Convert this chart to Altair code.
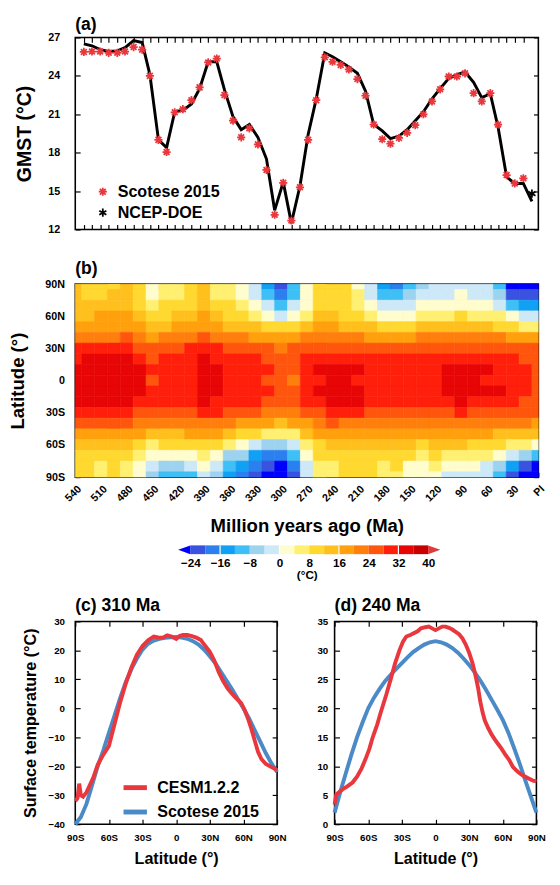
import altair as alt
import pandas as pd

FONT = "Liberation Sans"
RED = "#e8383d"
BLUE = "#4a8ac6"

# ---------------- (a) global mean surface temperature ----------------
ages = [530, 520.5, 511, 501, 491, 482, 472, 462, 453, 443, 433.5, 424, 414.5, 404.5, 395, 385, 375, 366,
        356, 346.5, 337, 327, 317, 307.5, 297.5, 288, 278, 268.5, 259, 249, 240, 230.5, 221, 211, 201.5,
        192, 182, 172.5, 162.5, 153, 143.5, 134, 124, 114.5, 104.5, 95, 85.5, 75.5, 66, 56, 47, 37, 27.5, 17.5]
scotese_gmst = [25.87, 25.9, 25.9, 25.8, 25.8, 25.9, 26.25, 26.05, 24.0, 19.0, 18.05, 21.15, 21.4, 22.1,
                23.1, 25.05, 25.35, 22.5, 20.5, 19.2, 19.9, 18.65, 16.65, 13.15, 15.65, 12.7, 15.3, 19.0,
                22.1, 25.45, 25.1, 24.85, 24.5, 23.75, 22.45, 20.2, 19.05, 18.7, 19.15, 19.55, 20.15, 21.0,
                22.0, 22.95, 23.95, 23.95, 24.2, 22.65, 22.0, 22.65, 20.2, 16.25, 15.6, 16.0]
cesm_ages = ages + [7.5]
cesm_gmst = [26.5, 26.35, 26.05, 25.9, 25.95, 26.2, 26.75, 26.6, 24.1, 19.0, 18.4, 21.2, 21.3, 21.8, 23.0,
             25.1, 25.1, 22.9, 20.8, 19.8, 20.2, 19.2, 17.5, 13.5, 15.7, 12.5, 15.4, 19.4, 22.2, 25.8, 25.5,
             25.1, 24.7, 24.2, 22.8, 20.2, 19.7, 19.1, 19.3, 19.8, 20.5, 21.2, 22.2, 23.0, 23.8, 24.1, 24.3,
             23.5, 22.3, 22.6, 20.0, 16.1, 15.6, 15.6, 14.2]
ncep_age = [7.5]
ncep_gmst = [14.8]
gmst_ticks = [12, 15, 18, 21, 24, 27]
src_a = ["Scotese 2015", "NCEP-DOE"]

# ---------------- (b) zonal-mean surface temperature ----------------
grid_ages = [540, 525, 510, 495, 480, 465, 450, 435, 420, 405, 390, 375, 360, 345, 330, 315, 300, 285, 270,
             255, 240, 225, 210, 195, 180, 165, 150, 135, 120, 105, 90, 75, 60, 45, 30, 15, 0]
grid_lats = [90, 80, 70, 60, 50, 40, 30, 20, 10, 0, -10, -20, -30, -40, -50, -60, -70, -80, -90]
p540 = [12, 12, 13, 15.5, 19, 23.5, 28, 31.5, 33.5, 34, 33.5, 33, 29, 24.3, 18, 12.3, 10, 9.5, 9.5]
p525 = [10.5, 11, 12.5, 15.5, 19, 23.5, 28, 32, 33.5, 34, 33.5, 33, 29, 24.3, 18, 12.5, 10, 9, 9]
p510 = [10.5, 11.5, 13, 16, 19.3, 23.5, 28, 32, 33.5, 34, 33.5, 33, 29, 24, 18.5, 13, 9.5, 7, 6.5]
p495 = [11, 12, 13.5, 16, 19.5, 23.5, 28, 32, 33.5, 34, 33.5, 33, 29, 24, 18.5, 13, 9.5, 8, 8]
p480 = [12, 12.5, 14, 16.5, 19.5, 24, 28, 32, 33.5, 34, 33.5, 33, 29, 24, 18.5, 12.5, 9, 7.5, 7]
p465 = [8, 8.5, 10.5, 13.5, 17, 22, 26.5, 30, 32.3, 32.5, 32.3, 31, 27.5, 22.5, 16, 10, 5, 2, 1]
p450 = [2.5, 3.5, 5.5, 8.5, 12.5, 18.5, 24, 27.5, 29.5, 27.5, 29.5, 28.5, 25.5, 21, 14.5, 7, 1, -3, -6]
p435 = [5, 6, 8, 11, 15, 20.5, 25.5, 28.5, 30, 29.5, 30, 29.5, 26.5, 22, 15.5, 8, 0, -5, -9]
p420 = [6.5, 7, 9.5, 12.5, 16, 21.5, 27, 29.5, 30.5, 30.5, 30.5, 30, 27, 22, 15.5, 8, 0, -6, -10]
p405 = [8, 8.5, 11, 14, 17.5, 23, 28, 30.5, 31, 31, 31, 30.5, 27.5, 22.5, 16, 9, 2, -4, -9]
p390 = [12.5, 13, 14, 16, 19.5, 25, 29.5, 32.3, 32.8, 32.5, 32.8, 32.3, 28.5, 23.5, 17, 10.5, 5, 1, -2]
p375 = [6, 7, 9.5, 13, 17, 23, 28.5, 31.5, 32.3, 32.5, 32.5, 31.8, 28, 22.5, 16, 8, 1, -4, -6]
p360 = [4, 5, 8, 11.5, 15.5, 21.5, 27.5, 30.5, 31, 30.5, 31, 30.5, 26.5, 21, 14, 5, -5, -12, -16]
p345 = [2, 3.5, 6, 10, 14, 20.5, 26.5, 29.5, 30.5, 30, 30.5, 29.5, 25.5, 19.5, 11, 1, -8, -16, -19]
p330 = [-2, -0.5, 3, 7.5, 12, 19.5, 25.5, 28.5, 29, 28.5, 29, 28, 24.5, 17.5, 8, -3, -13, -20, -22]
p315 = [-14, -10, -3, 3, 9.5, 18, 24, 27.5, 28, 27, 28, 27.5, 23.5, 16, 6, -6, -17, -24, -27]
p300 = [-21, -17, -9, -1, 8, 17, 23.5, 26.5, 27.3, 25.5, 27, 26.5, 23, 15.5, 5, -8, -20, -27, -31]
p285 = [-12, -9, -4, 1.5, 9.5, 18, 24, 26.5, 26.8, 23.5, 26.5, 26.5, 23, 16, 7, -3, -12, -20, -24]
p270 = [2, 2.5, 3.5, 7, 13, 20, 25.5, 28.5, 28.5, 28.3, 29, 28.5, 25, 19.5, 12.5, 5, 1, -1.5, -3]
p255 = [10, 10, 11, 13, 16, 21, 26.5, 30.5, 32, 31.8, 32, 31.5, 27.5, 22.5, 17, 11.5, 8.5, 7, 6]
p240 = [10.5, 10.5, 11, 12.5, 16, 21, 26.5, 31, 33.5, 33.5, 33.5, 33, 29, 24, 18.5, 12.5, 9, 6.5, 4.5]
p225 = [8, 8.5, 9.5, 11, 15, 20.5, 26.5, 30.5, 33.5, 33.5, 33.5, 33, 28.5, 23, 17.5, 12.5, 9.5, 9, 8.5]
p210 = [3, 4, 6.5, 9, 14, 20, 26.5, 30.5, 33, 31.8, 33, 32.5, 28, 23, 17, 12.5, 10, 9.5, 9]
p195 = [-3, -1.5, 2, 6, 12, 19.5, 26, 29.5, 30.5, 30.5, 30.5, 30, 27.5, 22.5, 16.5, 12, 9.5, 8.5, 8]
p180 = [-15, -11, -4, 2.5, 10.5, 19, 26, 29.5, 30.5, 30.5, 30.5, 30, 27, 22, 16.5, 12.5, 9, 7, 6.5]
p165 = [-17, -12, -4, 2, 10, 19, 26, 29.5, 30.5, 30.5, 30.5, 30, 27, 22, 17, 12.5, 9.5, 8, 7]
p150 = [-11, -8, -2, 3, 10.5, 19.5, 26.5, 29.5, 30.5, 30.5, 30.5, 30, 27, 22, 16.5, 12, 8, 3, 1.5]
p135 = [-5, -4, 0.5, 5, 12, 20.5, 27, 30, 30.5, 30.5, 30.5, 30, 27, 22, 16.5, 11.5, 5.5, 2, 1]
p120 = [-4, -3, 1, 6.5, 13, 21, 27, 30.5, 31, 31, 31, 30.5, 27.5, 22.5, 17, 12, 8, 4, 1]
p105 = [-2, -1, 2.5, 7.5, 14.5, 21.5, 27.5, 31, 32.5, 32.5, 32.5, 31.5, 27.5, 22.5, 17, 12, 7.5, 1.5, -2]
p90 = [-1, 0, 3, 8, 14.5, 21.5, 27.5, 31.5, 33, 33, 33, 32, 28, 23, 17, 12, 7, 0, -3]
p75 = [-2, -1, 2.5, 7.5, 14, 21, 27, 31.5, 32.5, 32, 32.5, 31.5, 27.5, 22.5, 16.5, 11.5, 6, 0, -3]
p60 = [-3, -2, 2, 7, 13.5, 20.5, 27, 31, 32.3, 31.8, 32.3, 31, 27, 22, 16, 10.5, 5, -1, -4]
p45 = [-11, -8, -2, 4, 11.5, 20, 26.5, 30.5, 31, 31.5, 32, 30.5, 26.5, 21.5, 15, 9, 2, -5, -10]
p30 = [-26, -22, -12, 1, 9.5, 19, 25.5, 28, 29, 28.5, 29, 28, 25, 20.5, 14, 7, -4, -16, -22]
p15 = [-28, -24, -14, -1, 7, 18, 24.5, 27, 28, 28.8, 28, 27, 24.5, 20, 13, 5, -7, -22, -27]
p0 = [-27, -22, -14, -3, 5, 17.5, 24, 26.5, 27, 27, 27, 26.5, 24, 19.5, 12, 2, -10, -26, -30]
profiles = [p540, p525, p510, p495, p480, p465, p450, p435, p420, p405, p390, p375, p360, p345, p330,
            p315, p300, p285, p270, p255, p240, p225, p210, p195, p180, p165, p150, p135, p120, p105,
            p90, p75, p60, p45, p30, p15, p0]
age_ticks = [540, 510, 480, 450, 420, 390, 360, 330, 300, 270, 240, 210, 180, 150, 120, 90, 60, 30, 0]
lat_ticks = [90, 60, 30, 0, -30, -60, -90]

# ---------------- colour levels ----------------
levels = [-24, -20, -16, -12, -8, -4, 0, 4, 8, 12, 16, 20, 24, 28, 32, 36, 40]
level_colors = ["#0000ff", "#3a52e0", "#2b7fef", "#10a1f5", "#3ebff5", "#9ed3ef", "#cde9f8",
                "#fffccd", "#fff071", "#ffd830", "#ffbf1c", "#ffa00c", "#ff7e0c", "#ff550c",
                "#ff1f0a", "#e80505", "#c80000", "#de3b3b"]
cbar_labels = [-24, -16, -8, 0, 8, 16, 24, 32, 40]
cbar_white = [-16, 0, 16, 32]

# ---------------- (c) 310 Ma and (d) 240 Ma profiles ----------------
lat5 = [-90, -85, -80, -75, -70, -65, -60, -55, -50, -45, -40, -35, -30, -25, -20, -15, -10, -5, 0,
        5, 10, 15, 20, 25, 30, 35, 40, 45, 50, 55, 60, 65, 70, 75, 80, 85, 90]
c_blue = [-40, -37.5, -33, -26.5, -20, -14.5, -8.5, -2.5, 3.5, 9, 13.5, 17.2, 20.3, 22.3, 23.4, 24, 24.3,
          24.5, 24.6, 24.4, 24, 23.2, 22, 20.2, 18, 15.5, 12.5, 9.5, 6.5, 3.2, 0, -3.5, -7.5, -11.5,
          -15.5, -19, -22]
c_lat_red = [-90, -88, -86.5, -85, -83, -80, -77, -74, -70, -65, -60, -55, -50, -45, -40, -35, -30, -25,
             -20, -16, -12, -8, -4, 0, 3, 6, 10, 14, 18, 22, 26, 30, 34, 38, 42, 46, 50, 54, 58, 61, 64,
             67, 70, 73, 76, 80, 85, 90]
c_red = [-32, -31, -26, -30, -30.5, -29, -26.5, -24, -19.5, -16, -13, -5.5, 2, 8.5, 14, 18.5, 21.5, 23.5,
         24.8, 24.5, 24.4, 25.2, 24.8, 24, 25, 25.3, 25.3, 24.9, 24.4, 23.6, 21.5, 19.5, 16.5, 12.5, 9.3,
         6.8, 5, 3.3, 1.8, -0.5, -3.5, -7, -11, -15, -17.5, -19.2, -20.3, -21.3]
d_blue = [2, 5.5, 8.8, 12, 15, 17.6, 20, 21.8, 23.3, 24.7, 25.8, 26.8, 27.8, 28.8, 29.7, 30.4, 31, 31.4,
          31.6, 31.4, 31, 30.4, 29.6, 28.6, 27.5, 26.2, 24.8, 23.2, 21.5, 19.8, 18, 15.8, 13.2, 10.5, 7.6,
          4.8, 2]
d_lat_red = [-90, -88.5, -83, -79, -74, -70, -66, -62.5, -59, -56, -52, -49, -44, -40, -36, -32, -29, -26,
             -22, -19, -16, -13, -9, -6, -3, 0, 3, 6, 9, 12, 15, 18, 21, 24, 27, 30, 33, 36, 38, 40, 42,
             44, 47, 50, 53, 56, 59, 62, 66, 69, 72, 75, 78, 81, 84, 87, 90]
d_red = [3.4, 5.1, 6, 6.5, 7.2, 8.2, 9.6, 11.2, 13, 15, 17.2, 19.2, 22.3, 25, 27.8, 30.1, 31.5, 32.4, 32.7,
         33, 33.3, 33.8, 34, 34.1, 33.8, 33.5, 33.8, 34.1, 34.1, 33.9, 33.6, 33.2, 32.8, 32.1, 31, 29.6,
         27.8, 25.4, 23.5, 21.1, 19.3, 17.9, 16.6, 15.5, 14.6, 13.8, 13, 12.1, 11, 9.9, 9.3, 8.8, 8.4,
         8.1, 7.8, 7.5, 7.4]
lat_axis_ticks = [-90, -60, -30, 0, 30, 60, 90]
c_ticks = [-40, -30, -20, -10, 0, 10, 20, 30]
d_ticks = [0, 5, 10, 15, 20, 25, 30, 35]
src_c = ["CESM1.2.2", "Scotese 2015"]

STAR8 = "M-1,0L1,0M0,-1L0,1M-0.71,-0.71L0.71,0.71M-0.71,0.71L0.71,-0.71"
STAR6 = "M0,-1L0,1M-0.87,-0.5L0.87,0.5M-0.87,0.5L0.87,-0.5"
TRI_L = "M1,-0.72L-1,0L1,0.72Z"
TRI_R = "M-1,-0.72L1,0L-1,0.72Z"
LATFMT = "datum.value > 0 ? datum.value + 'N' : (datum.value < 0 ? (-datum.value) + 'S' : '0')"


def ax(orient, values, labels=True, **kw):
    return alt.Axis(orient=orient, values=values, labels=labels, tickSize=5, offset=-5,
                    domain=False, grid=False, labelFlush=False, **kw)


# ---------- panel (a) ----------
df_line = pd.DataFrame({"age": cesm_ages, "gmst": cesm_gmst})
df_pts = pd.DataFrame({"age": ages + ncep_age, "gmst": scotese_gmst + ncep_gmst,
                       "src": [src_a[0]] * len(ages) + [src_a[1]] * len(ncep_age)})
xa = alt.Scale(domain=[0, 540], reverse=True, nice=False, zero=False)
ya = alt.Scale(domain=[12, 27], nice=False, zero=False)
leg_a = alt.Legend(title=None, orient="none", legendX=20, legendY=150, labelFontSize=16.5,
                   labelOffset=7, rowPadding=4.5, symbolSize=70, symbolStrokeWidth=1.8, padding=0)

line_a = alt.Chart(df_line).mark_line(color="black", strokeWidth=3).encode(
    x=alt.X("age:Q", scale=xa, axis=ax("bottom", ages, labels=False, title=None)),
    y=alt.Y("gmst:Q", scale=ya, axis=ax("left", gmst_ticks, labelFontSize=11, labelPadding=16,
                                        title="GMST (°C)", titleFontSize=20, titlePadding=14)),
)
pts_a = alt.Chart(df_pts).mark_point(filled=False, size=70, strokeWidth=1.8, opacity=1).encode(
    x=alt.X("age:Q", scale=xa, axis=ax("top", ages, labels=False, title=None)),
    y=alt.Y("gmst:Q", scale=ya, axis=ax("right", gmst_ticks, labels=False, title=None)),
    color=alt.Color("src:N", scale=alt.Scale(domain=src_a, range=[RED, "black"]), legend=leg_a),
    shape=alt.Shape("src:N", scale=alt.Scale(domain=src_a, range=[STAR8, STAR6]), legend=leg_a),
)
panel_a = alt.layer(line_a, pts_a).resolve_axis(x="independent", y="independent").properties(
    width=475, height=197,
    title=alt.TitleParams("(a)", anchor="start", frame="group", fontSize=18, offset=-2))

# ---------- panel (b) ----------
half_t = (grid_ages[0] - grid_ages[1]) / 2
half_l = (grid_lats[0] - grid_lats[1]) / 2
rows = []
for t, prof in zip(grid_ages, profiles):
    assert len(prof) == len(grid_lats)
    for lat, val in zip(grid_lats, prof):
        rows.append({"t0": min(t + half_t, grid_ages[0]), "t1": max(t - half_t, grid_ages[-1]),
                     "l0": max(lat - half_l, grid_lats[-1]), "l1": min(lat + half_l, grid_lats[0]),
                     "T": val})
df_heat = pd.DataFrame(rows)
xb = alt.Scale(domain=[0, 540], reverse=True, nice=False, zero=False)
yb = alt.Scale(domain=[-90, 90], nice=False, zero=False)
tscale = alt.Scale(type="threshold", domain=levels, range=level_colors)

heat = alt.Chart(df_heat).mark_rect(strokeWidth=0.6).encode(
    x=alt.X("t0:Q", scale=xb, axis=ax("bottom", age_ticks, labelExpr="datum.value == 0 ? 'PI' : datum.label",
                                       labelAngle=-45, labelFontSize=11, labelPadding=6,
                                       title="Million years ago (Ma)", titleFontSize=19, titlePadding=14)),
    x2="t1:Q",
    y=alt.Y("l0:Q", scale=yb, axis=ax("left", lat_ticks, labelExpr=LATFMT, labelFontSize=11, labelPadding=11,
                                       title="Latitude (°)", titleFontSize=19, titlePadding=18)),
    y2="l1:Q",
    color=alt.Color("T:Q", scale=tscale, legend=None),
    stroke=alt.Stroke("T:Q", scale=tscale, legend=None),
)
df_tick_b = pd.DataFrame({"age": ages, "lat": [0] * len(ages)})
ticks_b = alt.Chart(df_tick_b).mark_point(opacity=0).encode(
    x=alt.X("age:Q", scale=xb, axis=ax("top", ages, labels=False, title=None)),
    y=alt.Y("lat:Q", scale=yb, axis=ax("right", lat_ticks, labels=False, title=None)),
)
panel_b = alt.layer(heat, ticks_b).resolve_axis(x="independent", y="independent").properties(
    width=475, height=198,
    title=alt.TitleParams("(b)", anchor="start", frame="group", fontSize=18, offset=0))

# ---------- colour bar ----------
px_per_deg = 3.81
tri_w = 12.5 / px_per_deg
df_cb = pd.DataFrame({"lo": levels[:-1], "hi": levels[1:], "col": level_colors[1:-1]})
df_tri = pd.DataFrame({"v": [levels[0] - tri_w / 2, levels[-1] + tri_w / 2],
                       "col": [level_colors[0], level_colors[-1]], "dir": ["l", "r"]})
df_white = pd.DataFrame({"v": cbar_white})
xcb = alt.Scale(domain=[-54.97, 69.66], nice=False, zero=False)
cb_rect = alt.Chart(df_cb).mark_rect().encode(
    x=alt.X("lo:Q", scale=xcb, axis=alt.Axis(values=cbar_labels, ticks=False, domain=False, grid=False,
                                              labelFlush=False, labelFontSize=12, labelPadding=4, offset=-13,
                                              title="(°C)", titleFontSize=12, titlePadding=1)),
    x2="hi:Q",
    y=alt.value(14), y2=alt.value(23),
    color=alt.Color("col:N", scale=None),
)
cb_white = alt.Chart(df_white).mark_rule(color="white", strokeWidth=1.2).encode(
    x=alt.X("v:Q", scale=xcb), y=alt.value(14), y2=alt.value(23))
cb_tri = alt.Chart(df_tri).mark_point(filled=True, size=156, opacity=1, strokeWidth=0).encode(
    x=alt.X("v:Q", scale=xcb), y=alt.value(18.5),
    color=alt.Color("col:N", scale=None),
    shape=alt.Shape("dir:N", scale=alt.Scale(domain=["l", "r"], range=[TRI_L, TRI_R]), legend=None),
)
cbar = alt.layer(cb_rect, cb_white, cb_tri).properties(
    width=475, height=36, view=alt.ViewBackground(stroke="transparent"))

# ---------- panels (c) and (d) ----------
xl = alt.Scale(domain=[-90, 90], nice=False, zero=False)
cscale = alt.Scale(domain=src_c, range=[RED, BLUE])
leg_c = alt.Legend(title=None, orient="none", legendX=47, legendY=156, labelFontSize=16.5, labelOffset=8,
                   rowPadding=-1.5, symbolType="stroke", symbolSize=576, symbolStrokeWidth=5, padding=0)

df_c_blue = pd.DataFrame({"lat": lat5, "T": c_blue, "src": src_c[1]})
df_c_red = pd.DataFrame({"lat": c_lat_red, "T": c_red, "src": src_c[0]})
yc = alt.Scale(domain=[-40, 30], nice=False, zero=False)
c_b = alt.Chart(df_c_blue).mark_line(strokeWidth=4).encode(
    x=alt.X("lat:Q", scale=xl, axis=ax("bottom", lat_axis_ticks, labelExpr=LATFMT, labelFontSize=10,
                                        labelPadding=9, title="Latitude (°)", titleFontSize=16.5,
                                        titlePadding=8)),
    y=alt.Y("T:Q", scale=yc, axis=ax("left", c_ticks, labelFontSize=10, labelPadding=11,
                                      title="Surface temperature (°C)", titleFontSize=16.5, titlePadding=10)),
    color=alt.Color("src:N", scale=cscale, legend=leg_c),
)
c_r = alt.Chart(df_c_red).mark_line(strokeWidth=4).encode(
    x=alt.X("lat:Q", scale=xl, axis=ax("top", lat_axis_ticks, labels=False, title=None)),
    y=alt.Y("T:Q", scale=yc, axis=ax("right", c_ticks, labels=False, title=None)),
    color=alt.Color("src:N", scale=cscale, legend=leg_c),
)
panel_c = alt.layer(c_b, c_r).resolve_axis(x="independent", y="independent").properties(
    width=207, height=208,
    title=alt.TitleParams("(c) 310 Ma", anchor="start", frame="group", fontSize=18, offset=2))

df_d_blue = pd.DataFrame({"lat": lat5, "T": d_blue})
df_d_red = pd.DataFrame({"lat": d_lat_red, "T": d_red})
yd = alt.Scale(domain=[0, 35], nice=False, zero=False)
d_b = alt.Chart(df_d_blue).mark_line(strokeWidth=4, color=BLUE).encode(
    x=alt.X("lat:Q", scale=xl, axis=ax("bottom", lat_axis_ticks, labelExpr=LATFMT, labelFontSize=10,
                                        labelPadding=9, title="Latitude (°)", titleFontSize=16.5,
                                        titlePadding=8)),
    y=alt.Y("T:Q", scale=yd, axis=ax("left", d_ticks, labelFontSize=10, labelPadding=7, title=None)),
)
d_r = alt.Chart(df_d_red).mark_line(strokeWidth=4, color=RED).encode(
    x=alt.X("lat:Q", scale=xl, axis=ax("top", lat_axis_ticks, labels=False, title=None)),
    y=alt.Y("T:Q", scale=yd, axis=ax("right", d_ticks, labels=False, title=None)),
)
panel_d = alt.layer(d_b, d_r).resolve_axis(x="independent", y="independent").properties(
    width=207, height=208,
    title=alt.TitleParams("(d) 240 Ma", anchor="start", frame="group", fontSize=18, offset=2))

# ---------- layout ----------
bottom = alt.hconcat(panel_c, panel_d, spacing=59, bounds="flush").resolve_scale(
    color="independent").resolve_legend(color="independent")

chart = alt.vconcat(panel_a, panel_b, cbar, bottom, spacing=56, bounds="flush").resolve_scale(
    color="independent", shape="independent", stroke="independent").resolve_legend(
    color="independent", shape="independent", stroke="independent").properties(
    padding={"left": 0, "top": -4, "right": 5, "bottom": 0}
).configure(font=FONT).configure_view(stroke="black", strokeWidth=1.6).configure_axis(
    labelFont=FONT, labelFontWeight="bold", titleFont=FONT, titleFontWeight="bold",
    labelColor="black", titleColor="black", tickColor="black", tickWidth=1.2,
).configure_legend(labelFont=FONT, labelFontWeight="bold", labelColor="black").configure_title(
    font=FONT, fontWeight="bold", color="black")

chart.save("out.html", embed_options={"renderer": "svg", "actions": False})
